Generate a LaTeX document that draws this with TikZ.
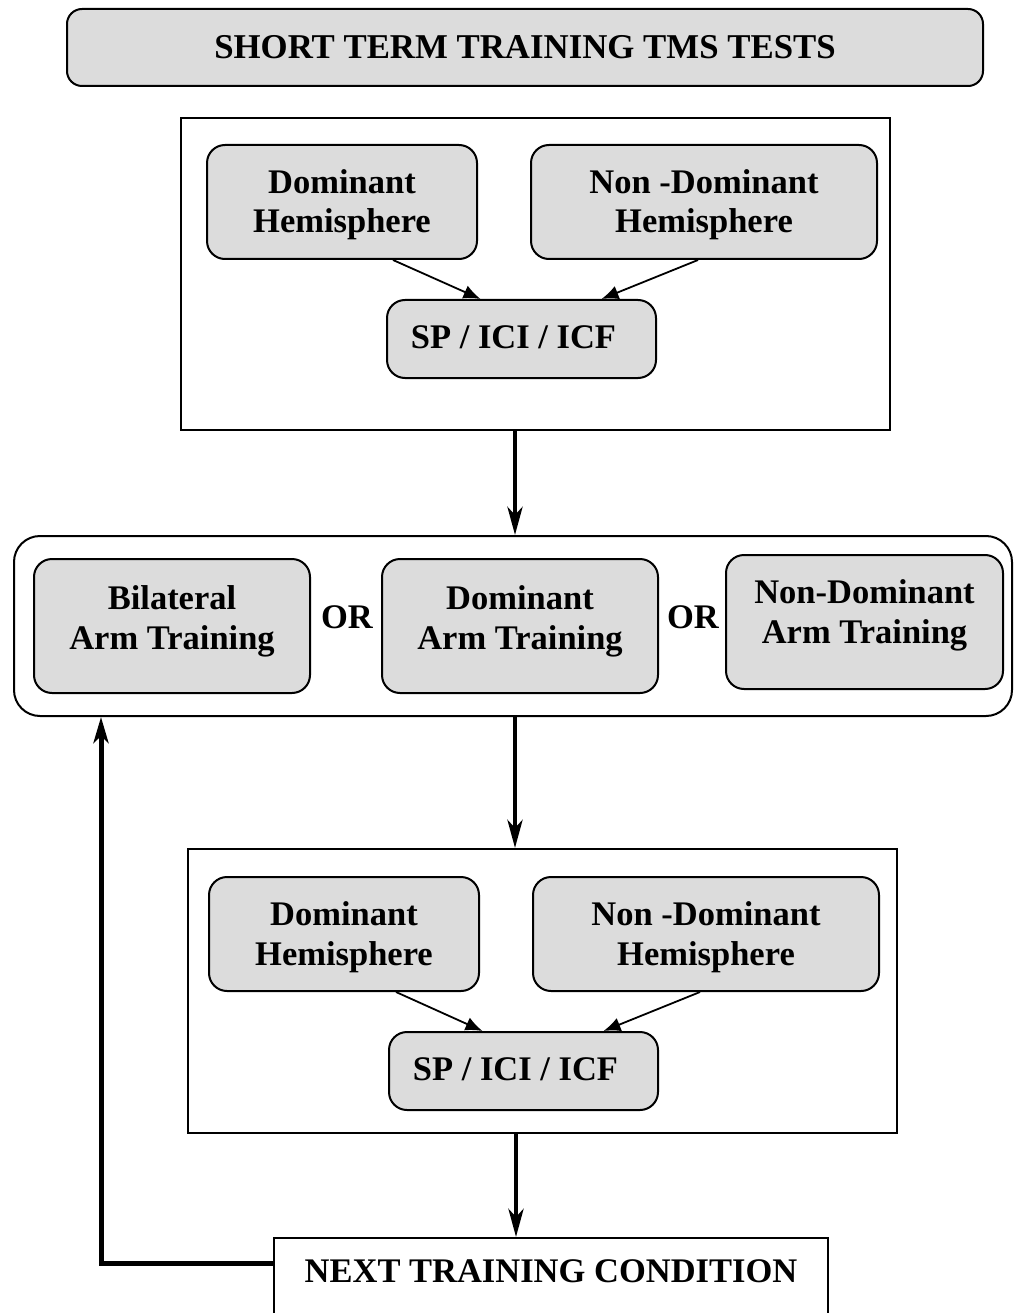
\documentclass[tikz,border=0pt]{standalone}
\usepackage{fontspec}
\setmainfont{Liberation Serif}
\usetikzlibrary{arrows.meta}
\definecolor{boxgray}{HTML}{DCDCDC}
\newcommand\twol[3]{\raisebox{#1}[0pt][0pt]{\begin{tabular}{@{}c@{}}#2\\#3\end{tabular}}}
\tikzset{
  gbox/.style={draw, line width=2pt, rounded corners=18pt, fill=boxgray, inner sep=0pt,
    font=\bfseries\fontsize{34.5}{39.5}\selectfont},
  frame/.style={draw, line width=2pt, inner sep=0pt},
  thinarrow/.style={line width=1.8pt, -{Latex[length=17pt,width=14pt]}},
  thickarrow/.style={line width=4.5pt, -{Stealth[length=28pt,width=15pt,inset=8pt]}},
  ortext/.style={font=\bfseries\fontsize{34.5}{39}\selectfont, inner sep=0pt}
}
\begin{document}
\begin{tikzpicture}[x=1pt,y=-1pt]
\useasboundingbox (0,0) rectangle (1014,1313);
\clip (0,0) rectangle (1014,1313);
% title
\node[gbox, rounded corners=15pt, minimum width=916pt, minimum height=77pt, font=\bfseries\fontsize{34.8}{40}\selectfont] (title) at (525,47.5) {\raisebox{2pt}{SHORT TERM TRAINING TMS TESTS}};
% top frame
\node[frame, minimum width=709pt, minimum height=312pt] (top) at (535.5,274) {};
\node[gbox, minimum width=270pt, minimum height=114pt] (dh1) at (342,202) {\twol{-9.5pt}{Dominant}{Hemisphere}};
\node[gbox, minimum width=346pt, minimum height=114pt] (nd1) at (704,202) {\twol{-9.5pt}{Non -Dominant}{Hemisphere}};
\node[gbox, minimum width=269pt, minimum height=78pt] (sp1) at (521.5,339) {\hspace*{-16pt}\raisebox{4pt}{SP / ICI / ICF}};
\draw[thinarrow] ([xshift=51pt]dh1.south) -- ([xshift=-41pt]sp1.north);
\draw[thinarrow] ([xshift=-6pt]nd1.south) -- ([xshift=80pt]sp1.north);
% middle frame
\node[draw, line width=2pt, rounded corners=26pt, minimum width=998pt, minimum height=180pt, inner sep=0pt] (mid) at (513,626) {};
\node[gbox, minimum width=276pt, minimum height=134pt] (bil) at (172,626) {\twol{-2pt}{Bilateral}{Arm Training}};
\node[gbox, minimum width=276pt, minimum height=134pt] (dom) at (520,626) {\twol{-2pt}{Dominant}{Arm Training}};
\node[gbox, minimum width=277pt, minimum height=134pt] (ndom) at (864.5,622) {\twol{0pt}{Non-Dominant}{Arm Training}};
\node[ortext] (or1) at (347,617) {OR};
\node[ortext] (or2) at (693,617) {OR};
% bottom frame
\node[frame, minimum width=709pt, minimum height=284pt] (bot) at (542.5,991) {};
\node[gbox, minimum width=270pt, minimum height=114pt] (dh2) at (344,934) {\twol{-10pt}{Dominant}{Hemisphere}};
\node[gbox, minimum width=346pt, minimum height=114pt] (nd2) at (706,934) {\twol{-10pt}{Non -Dominant}{Hemisphere}};
\node[gbox, minimum width=269pt, minimum height=78pt] (sp2) at (523.5,1071) {\hspace*{-16pt}\raisebox{4pt}{SP / ICI / ICF}};
\draw[thinarrow] ([xshift=52pt]dh2.south) -- ([xshift=-41pt]sp2.north);
\draw[thinarrow] ([xshift=-6pt]nd2.south) -- ([xshift=80pt]sp2.north);
% next
\node[frame, minimum width=554pt, minimum height=100pt, font=\bfseries\fontsize{34.5}{40}\selectfont] (next) at (551,1288) {\raisebox{33pt}{NEXT TRAINING CONDITION}};
% main arrows
\draw[thickarrow] (top.south -| 515,0) -- (mid.north -| 515,0);
\draw[thickarrow] (mid.south -| 515,0) -- (bot.north -| 515,0);
\draw[thickarrow] (bot.south -| 516,0) -- (next.north -| 516,0);
% feedback
\coordinate (fb) at (101,1263);
\draw[line width=5pt, -{Stealth[length=26pt,width=15pt,inset=7pt]}] (next.west |- fb) -- (fb) -- (fb |- mid.south);
\end{tikzpicture}
\end{document}
